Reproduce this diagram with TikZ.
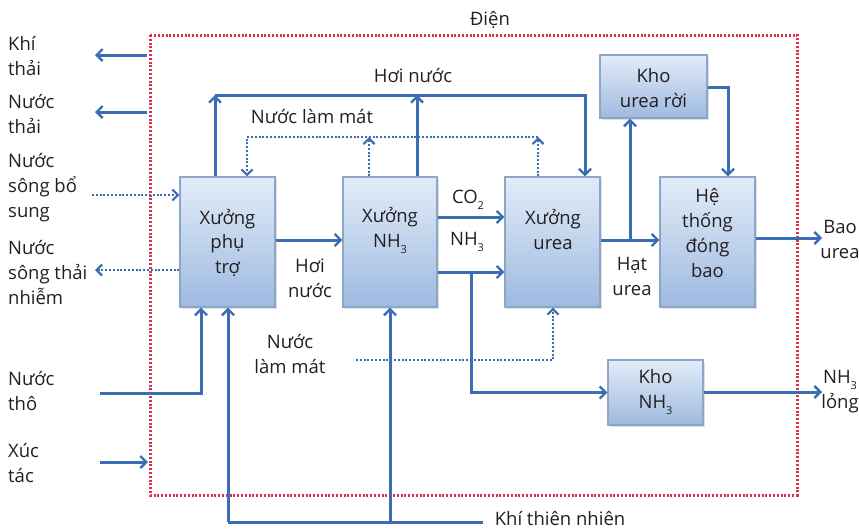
\documentclass[tikz,border=0pt]{standalone}
\usepackage{fontspec}
\setmainfont{Open Sans}
\usetikzlibrary{arrows.meta,shadows}
\definecolor{flow}{HTML}{3A6DB3}
\definecolor{frame}{HTML}{E0304E}
\definecolor{boxtop}{HTML}{E2ECF8}
\definecolor{boxbot}{HTML}{9EBAE0}
\definecolor{boxline}{HTML}{8CA6C8}
\definecolor{ink}{HTML}{231F20}
\newcommand\lowsub[1]{\raisebox{-0.6ex}{\fontsize{11}{11}\selectfont #1}}
\tikzset{
  arr/.style={draw=flow, line width=3pt, -{Straight Barb[length=6pt,width=12pt,line width=2.4pt]}},
  plain/.style={draw=flow, line width=3pt},
  dotarr/.style={draw=flow, line width=2.6pt, dash pattern=on 2pt off 1.8pt, -{Straight Barb[length=5.5pt,width=11pt,line width=2.2pt]}},
  dotline/.style={draw=flow, line width=2.6pt, dash pattern=on 2pt off 1.8pt},
  procbox/.style={draw=boxline, line width=1.2pt, top color=boxtop, bottom color=boxbot, inner sep=0pt, drop shadow={shadow xshift=1.5pt, shadow yshift=-1.5pt, opacity=0.25}},
  txt/.style={text=ink, font=\fontsize{18.5}{25}\selectfont, align=center, inner sep=0pt},
  ltxt/.style={txt, align=left, anchor=west},
}
\begin{document}
\begin{tikzpicture}[x=1pt,y=-1pt]
\useasboundingbox (0,0) rectangle (859,528);
% frame
\draw[frame, line width=3pt, dash pattern=on 2pt off 1.8pt] (150,35) rectangle (797,495);
% boxes
\node[procbox, minimum width=95pt, minimum height=130pt] (pt) at (227.5,242) {};
\node[procbox, minimum width=94pt, minimum height=130pt] (nh) at (390,242) {};
\node[procbox, minimum width=95pt, minimum height=130pt] (ur) at (552.5,242) {};
\node[procbox, minimum width=107pt, minimum height=63pt] (kr) at (653.5,86.5) {};
\node[procbox, minimum width=95pt, minimum height=130pt] (ht) at (707.5,242) {};
\node[procbox, minimum width=95pt, minimum height=65pt] (knh) at (655.5,392.5) {};
% box texts
\node[txt] (ptT) at (227.5,243) {Xưởng\\phụ\\trợ};
\node[txt] (nhT) at (390,230) {Xưởng\\NH\lowsub{3}};
\node[txt] (urT) at (553,230) {Xưởng\\urea};
\node[txt] (krT) at (653.5,88) {Kho\\urea rời};
\node[txt] (htT) at (707.5,233) {Hệ\\thống\\đóng\\bao};
\node[txt] (knhT) at (655.5,392) {Kho\\NH\lowsub{3}};
% coordinates
\coordinate (kt1) at (147,55); \coordinate (kt2) at (95,55);
\coordinate (nt1) at (147,112); \coordinate (nt2) at (95,112);
\coordinate (sb1) at (92,195);
\coordinate (st1) at (95,270);
\coordinate (tho1) at (100,393); \coordinate (tho2) at (201,393);
\coordinate (xt1) at (100,462); \coordinate (xt2) at (148,462);
\coordinate (kh1) at (228,522); \coordinate (kh2) at (390,522); \coordinate (kh3) at (483,522);
\coordinate (hn1) at (215,95); \coordinate (hn2) at (417,95); \coordinate (hn3) at (585,95);
\coordinate (lm1) at (247,137); \coordinate (lm2) at (369,137); \coordinate (lm3) at (538,137);
\coordinate (hy) at (300,240);
\coordinate (co) at (470,217);
\coordinate (n3) at (471,272);
\coordinate (lb1) at (356,360); \coordinate (lb2) at (553,360);
\coordinate (hu) at (630,240);
\coordinate (kr1) at (728,87);
\coordinate (hb) at (822,238);
\coordinate (kn) at (822,392);
% connectors
\draw[arr] (kt1) -- (kt2);
\draw[arr] (nt1) -- (nt2);
\draw[dotarr] (sb1) -- (sb1 -| pt.west);
\draw[dotarr] (st1 -| pt.west) -- (st1);
\draw[arr] (tho1) -- (tho2) -- (tho2 |- pt.south);
\draw[arr] (xt1) -- (xt2);
\draw[plain] (kh3) -- (kh1);
\draw[arr] (kh1) -- (kh1 |- pt.south);
\draw[arr] (kh2) -- (kh2 |- nh.south);
\draw[arr] (hn1 |- pt.north) -- (hn1);
\draw[arr] (hn1) -- (hn3) -- (hn3 |- ur.north);
\draw[arr] (hn2 |- nh.north) -- (hn2);
\draw[dotarr] (lm3) -- (lm1) -- (lm1 |- pt.north);
\draw[dotarr] (lm2 |- nh.north) -- (lm2);
\draw[dotarr] (lm3 |- ur.north) -- (lm3);
\draw[arr] (hy -| pt.east) -- (hy -| nh.west);
\draw[arr] (co -| nh.east) -- (co -| ur.west);
\draw[arr] (n3 -| nh.east) -- (n3 -| ur.west);
\draw[arr] (n3) |- (knh.west);
\draw[dotarr] (lb1) -- (lb2) -- (lb2 |- ur.south);
\draw[arr] (hu -| ur.east) -- (hu -| ht.west);
\draw[arr] (hu) -- (hu |- kr.south);
\draw[arr] (kr1 -| kr.east) -- (kr1) -- (kr1 |- ht.north);
\draw[arr] (hb -| ht.east) -- (hb);
\draw[arr] (kn -| knh.east) -- (kn);
% labels
\node[txt] (dien) at (490,20) {Điện};
\node[txt] (hnL) at (413,75) {Hơi nước};
\node[txt] (lmL) at (312,116) {Nước làm mát};
\node[txt] (coL) at (468,200) {CO\lowsub{2}};
\node[txt] (n3L) at (467,242) {NH\lowsub{3}};
\node[txt] (hn2L) at (310,278) {Hơi\\nước};
\node[txt] (lm2L) at (290,354) {Nước\\làm mát};
\node[txt] (hatL) at (632,276) {Hạt\\urea};
\node[txt] (khL) at (560,518) {Khí thiên nhiên};
\node[ltxt] (ktL) at (8,56) {Khí\\thải};
\node[ltxt] (ntL) at (8,114) {Nước\\thải};
\node[ltxt] (sbL) at (8,188) {Nước\\sông bổ\\sung};
\node[ltxt] (stL) at (8,272) {Nước\\sông thải\\nhiễm};
\node[ltxt] (thoL) at (8,391) {Nước\\thô};
\node[ltxt] (xtL) at (8,463) {Xúc\\tác};
\node[txt] (baoL) at (840,239) {Bao\\urea};
\node[txt] (lngL) at (840,392) {NH\lowsub{3}\\lỏng};
\end{tikzpicture}
\end{document}
